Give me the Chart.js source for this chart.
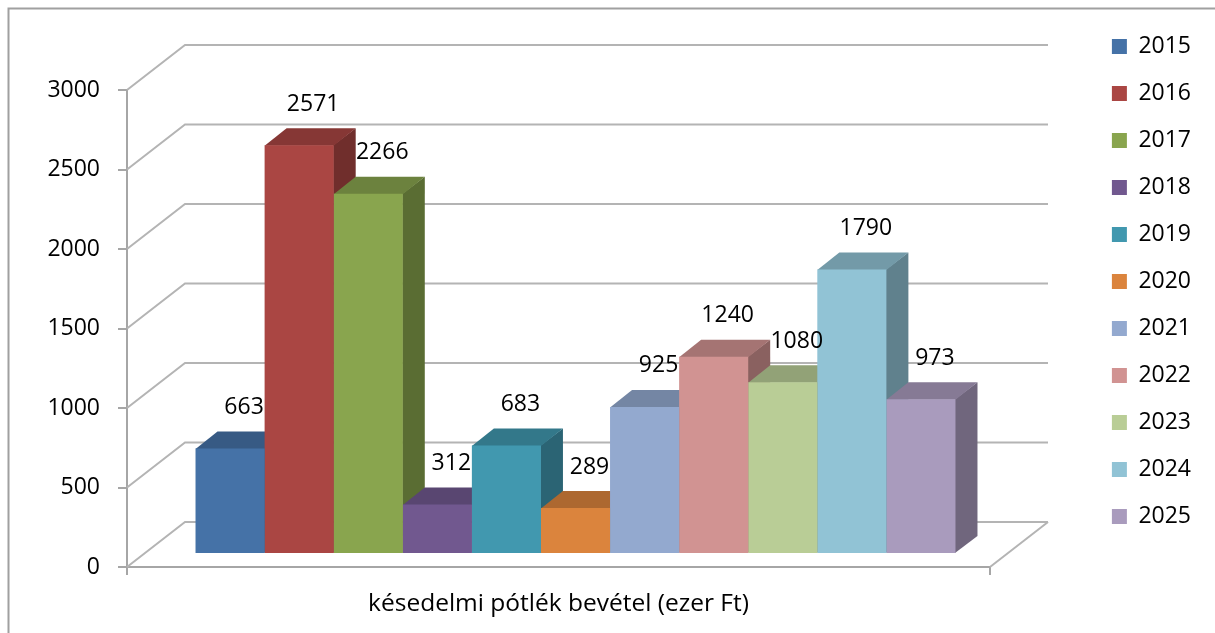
<!DOCTYPE html>
<html lang="hu">
<head>
  <meta charset="UTF-8">
  <title>Késedelmi pótlék bevétel</title>
  <script src="https://cdn.jsdelivr.net/npm/chart.js"></script>
  <style>
    html, body { margin: 0; padding: 0; background: #fff; }
    canvas { display: block; }
  </style>
</head>
<body>
  <canvas id="grafikon" width="1215" height="633"></canvas>

  <script>
    // Adatok
    const kategoriak = ["késedelmi pótlék bevétel (ezer Ft)"];
    const evek = ["2015", "2016", "2017", "2018", "2019", "2020", "2021", "2022", "2023", "2024", "2025"];
    const ertekek = [663, 2571, 2266, 312, 683, 289, 925, 1240, 1080, 1790, 973];
    const yTickek = [0, 500, 1000, 1500, 2000, 2500, 3000];

    // Színek (Excel 2007 paletta)
    const szinek = ["#4572a7", "#aa4643", "#89a54e", "#71588f", "#4198af", "#db843d",
                    "#93a9cf", "#d19392", "#b9cd96", "#91c3d5", "#a99bbd"];

    // 3D eltolások pixelben
    const fal = { dx: 58, dy: 45 };        // hátsó fal
    const eloSik = { dx: 17, dy: 13 };     // oszlopok elülső síkja
    const mélység = { dx: 22, dy: 17 };    // oszlopok mélysége
    const cimkeEltolas = { dx: 14, dy: 41 };

    const betu = "'Open Sans', sans-serif";
    const szurke = "#a6a6a6";

    function sotetit(hex, f) {
      const n = parseInt(hex.slice(1), 16);
      const r = Math.round(((n >> 16) & 255) * f);
      const g = Math.round(((n >> 8) & 255) * f);
      const b = Math.round((n & 255) * f);
      return `rgb(${r},${g},${b})`;
    }

    // 3D hatás: fal, oszlopok oldala és teteje, értékcímkék
    const haromD = {
      id: "haromD",
      beforeDraw(chart) {
        const ctx = chart.ctx;
        ctx.save();
        ctx.strokeStyle = "#a0a0a0";
        ctx.lineWidth = 2;
        ctx.strokeRect(8.5, 8.5, 1400, 1000);
        ctx.restore();
      },
      beforeDatasetsDraw(chart) {
        const ctx = chart.ctx;
        const area = chart.chartArea;
        const y = chart.scales.y;

        // hátsó fal rácsvonalai
        ctx.save();
        ctx.strokeStyle = "#b4b4b4";
        ctx.lineWidth = 2;
        yTickek.forEach(v => {
          const py = y.getPixelForValue(v);
          ctx.beginPath();
          ctx.moveTo(area.left, py);
          ctx.lineTo(area.left + fal.dx, py - fal.dy);
          ctx.lineTo(area.right + fal.dx, py - fal.dy);
          ctx.stroke();
        });
        // padló jobb széle
        ctx.beginPath();
        ctx.moveTo(area.right, area.bottom);
        ctx.lineTo(area.right + fal.dx, area.bottom - fal.dy);
        ctx.stroke();
        ctx.restore();

        // oszlopok oldala és teteje
        chart.data.datasets.forEach((ds, i) => {
          const el = chart.getDatasetMeta(i).data[0];
          if (!el) return;
          const L = el.x - el.width / 2 + eloSik.dx;
          const R = el.x + el.width / 2 + eloSik.dx;
          const T = el.y - eloSik.dy;
          const B = el.base - eloSik.dy;

          ctx.fillStyle = sotetit(szinek[i], 0.66);
          ctx.beginPath();
          ctx.moveTo(R - 0.5, T);
          ctx.lineTo(R + mélység.dx, T - mélység.dy);
          ctx.lineTo(R + mélység.dx, B - mélység.dy);
          ctx.lineTo(R - 0.5, B);
          ctx.closePath();
          ctx.fill();

          ctx.fillStyle = sotetit(szinek[i], 0.79);
          ctx.beginPath();
          ctx.moveTo(L, T + 0.5);
          ctx.lineTo(R, T + 0.5);
          ctx.lineTo(R + mélység.dx, T - mélység.dy);
          ctx.lineTo(L + mélység.dx, T - mélység.dy);
          ctx.closePath();
          ctx.fill();
        });

        // elülső lapok eltolása
        ctx.save();
        ctx.translate(eloSik.dx, -eloSik.dy);
      },
      afterDatasetsDraw(chart) {
        const ctx = chart.ctx;
        ctx.restore();

        ctx.save();
        ctx.fillStyle = "#000";
        ctx.font = `23px ${betu}`;
        ctx.textAlign = "center";
        ctx.textBaseline = "middle";
        chart.data.datasets.forEach((ds, i) => {
          const el = chart.getDatasetMeta(i).data[0];
          if (!el) return;
          ctx.fillText(String(ds.data[0]),
            el.x + eloSik.dx + cimkeEltolas.dx,
            el.y - eloSik.dy - cimkeEltolas.dy);
        });
        ctx.restore();
      }
    };

    const ctx = document.getElementById("grafikon").getContext("2d");
    const grafikon = new Chart(ctx, {
      type: "bar",
      data: {
        labels: kategoriak,
        datasets: evek.map((ev, i) => ({
          label: ev,
          data: [ertekek[i]],
          backgroundColor: szinek[i],
          borderWidth: 0,
          barPercentage: 1,
          categoryPercentage: 0.8806
        }))
      },
      options: {
        responsive: false,
        animation: false,
        devicePixelRatio: 1,
        layout: { padding: { top: 11, left: 0, right: 14, bottom: 0 } },
        plugins: {
          legend: {
            position: "right",
            align: "start",
            labels: {
              boxWidth: 15,
              boxHeight: 15,
              padding: 24,
              color: "#000",
              font: { family: betu, size: 23 }
            }
          },
          tooltip: { enabled: false }
        },
        scales: {
          x: {
            grid: { drawOnChartArea: false, drawTicks: true, tickLength: 8, color: szurke, lineWidth: 2 },
            border: { display: true, color: szurke, width: 2 },
            ticks: { color: "#000", font: { family: betu, size: 24.5 }, padding: 14 },
            afterFit: s => { s.height = 66; }
          },
          y: {
            min: yTickek[0],
            max: yTickek[yTickek.length - 1],
            afterBuildTicks: s => { s.ticks = yTickek.map(v => ({ value: v })); },
            grid: { drawOnChartArea: false, drawTicks: true, tickLength: 9, color: szurke, lineWidth: 2 },
            border: { display: true, color: szurke, width: 2 },
            ticks: {
              color: "#000",
              font: { family: betu, size: 23 },
              padding: 18,
              callback: v => String(v)
            },
            afterFit: s => { s.width = 127; }
          },
          felso: {
            type: "linear",
            position: "top",
            ticks: { display: false },
            grid: { display: false },
            border: { display: false },
            afterFit: s => { s.height = 79; }
          },
          jobb: {
            type: "linear",
            position: "right",
            ticks: { display: false },
            grid: { display: false },
            border: { display: false },
            afterFit: s => {
              const lw = s.chart.legend ? s.chart.legend.width : 0;
              s.width = Math.max(0, s.chart.width - 14 - lw - 990);
            }
          }
        }
      },
      plugins: [haromD]
    });
  </script>
</body>
</html>
